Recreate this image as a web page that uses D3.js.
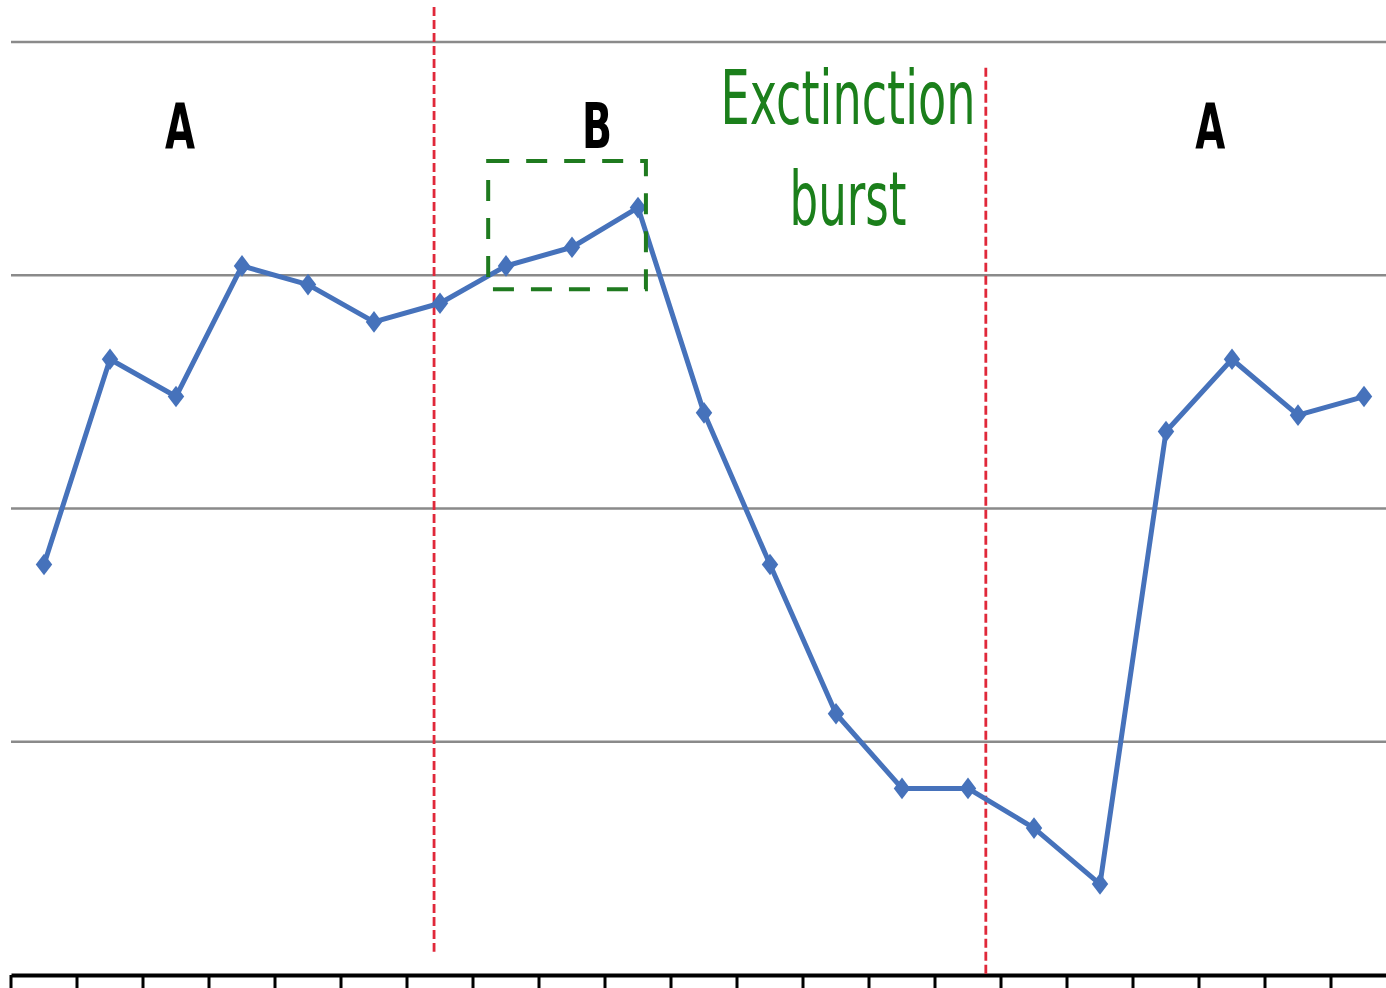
<!DOCTYPE html>
<html>
<head>
<meta charset="utf-8">
<script src="https://cdn.jsdelivr.net/npm/d3@7"></script>
<style>
  html, body { margin: 0; padding: 0; background: #fff; overflow: hidden; }
  svg { display: block; }
  .grid line { stroke: #8a8a8a; stroke-width: 2.5; }
  .axis path, .axis line { stroke: #000; }
</style>
</head>
<body>
<div id="chart"></div>
<script>
// session values, one per observation
const sessions = d3.range(1, 22);
const responses = [1.76, 2.64, 2.48, 3.04, 2.96, 2.80, 2.88, 3.04, 3.12, 3.29, 2.41,
  1.76, 1.12, 0.80, 0.80, 0.63, 0.39, 2.33, 2.64, 2.40, 2.48];
const gridValues = [1, 2, 3, 4];

// phase changes, in session index units
const phaseLines = [{at: 5.91, top: 4.15, bottom: 0.1}, {at: 14.27, top: 3.89, bottom: 0}];
const phaseLabels = [
  {text: 'A', at: 2.06},
  {text: 'B', at: 8.38},
  {text: 'A', at: 17.67}
];
// highlighted points of the B phase
const highlight = {from: 6.73, to: 9.12, lo: 2.94, hi: 3.49};
const burstLabel = ['Exctinction', 'burst'];

const W = 1386, H = 988;
const svg = d3.select('#chart').append('svg')
  .attr('width', W)
  .attr('height', H);

// index scale: point i is centred in its band
const x = d3.scaleLinear().domain([0, 20]).range([44, 1364]);
const y = d3.scaleLinear().domain([0, 4]).range([975, 42]);

// horizontal gridlines
svg.append('g').attr('class', 'grid')
  .selectAll('line')
  .data(gridValues)
  .enter().append('line')
  .attr('x1', 11).attr('x2', W)
  .attr('y1', d => y(d)).attr('y2', d => y(d));

// category axis with ticks on band boundaries
const xb = d3.scaleBand().domain(sessions).range([x(-0.5), x(20.5)]);
const axis = svg.append('g').attr('class', 'axis')
  .attr('transform', 'translate(0,' + y(0) + ')')
  .call(d3.axisBottom(xb).tickSize(0).tickFormat(''));
axis.select('.domain').attr('stroke-width', 4);
axis.selectAll('.tickmark')
  .data(sessions)
  .enter().append('line')
  .attr('class', 'tickmark')
  .attr('x1', d => xb(d)).attr('x2', d => xb(d))
  .attr('y1', 0).attr('y2', 13)
  .attr('stroke-width', 3);

// phase change lines
svg.selectAll('.phase')
  .data(phaseLines)
  .enter().append('line')
  .attr('class', 'phase')
  .attr('x1', d => x(d.at)).attr('x2', d => x(d.at))
  .attr('y1', d => y(d.top)).attr('y2', d => y(d.bottom))
  .attr('stroke', '#e0283a')
  .attr('stroke-width', 2.8)
  .attr('stroke-dasharray', '9,4');

// data line
const line = d3.line()
  .x((d, i) => x(i))
  .y(d => y(d));

svg.append('path')
  .datum(responses)
  .attr('d', line)
  .attr('fill', 'none')
  .attr('stroke', '#4672bb')
  .attr('stroke-width', 5)
  .attr('stroke-linejoin', 'round');

svg.selectAll('.marker')
  .data(responses)
  .enter().append('path')
  .attr('class', 'marker')
  .attr('d', d3.symbol().type(d3.symbolDiamond).size(150))
  .attr('transform', (d, i) => 'translate(' + x(i) + ',' + y(d) + ') scale(1.25,0.95)')
  .attr('fill', '#4672bb');

// dashed box round the B points
svg.append('rect')
  .attr('x', x(highlight.from))
  .attr('y', y(highlight.hi))
  .attr('width', x(highlight.to) - x(highlight.from))
  .attr('height', y(highlight.lo) - y(highlight.hi))
  .attr('fill', 'none')
  .attr('stroke', '#1f7a1f')
  .attr('stroke-width', 4)
  .attr('stroke-dasharray', '21,17');

// phase letters
svg.selectAll('.phase-label')
  .data(phaseLabels)
  .enter().append('text')
  .attr('class', 'phase-label')
  .attr('x', d => x(d.at))
  .attr('y', 148)
  .attr('text-anchor', 'middle')
  .attr('font-family', '"Liberation Sans Narrow", "DejaVu Sans Condensed", "Liberation Sans", sans-serif')
  .attr('font-weight', 'bold')
  .attr('font-size', 62)
  .attr('textLength', 30)
  .attr('lengthAdjust', 'spacingAndGlyphs')
  .attr('fill', '#000')
  .text(d => d.text);

// extinction burst note
svg.selectAll('.burst')
  .data(burstLabel)
  .enter().append('text')
  .attr('class', 'burst')
  .attr('x', 848)
  .attr('y', (d, i) => i ? 225 : 124)
  .attr('text-anchor', 'middle')
  .attr('font-family', '"Liberation Sans Narrow", "DejaVu Sans Condensed", "Liberation Sans", sans-serif')
  .attr('font-size', 74)
  .attr('textLength', (d, i) => i ? 117 : 255)
  .attr('lengthAdjust', 'spacingAndGlyphs')
  .attr('fill', '#1b7f1b')
  .text(d => d);
</script>
</body>
</html>
